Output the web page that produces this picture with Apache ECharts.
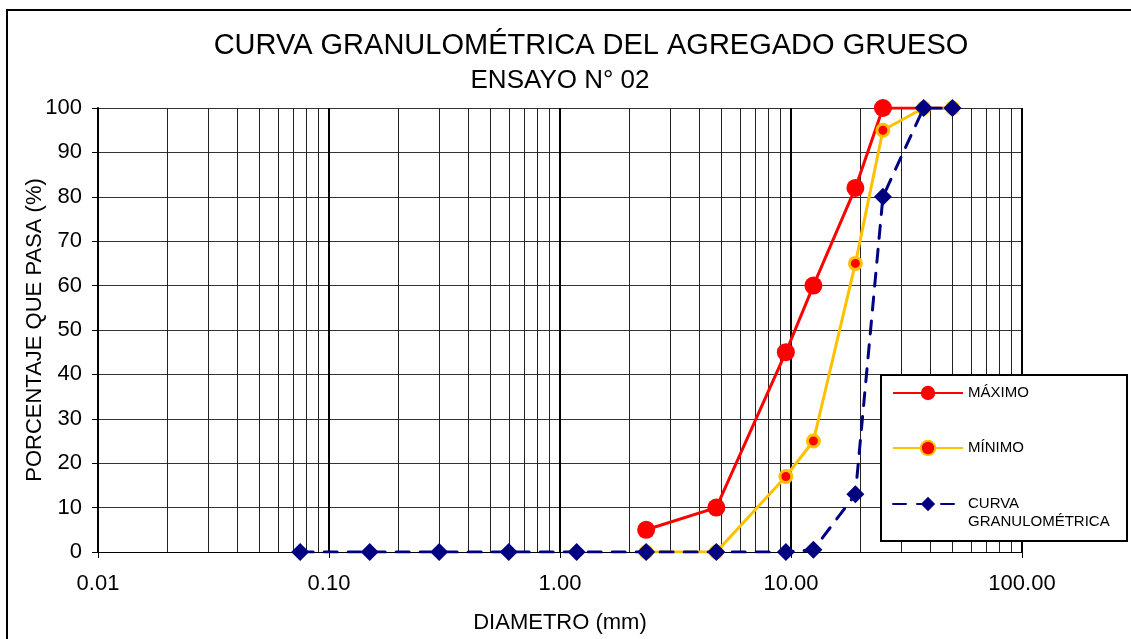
<!DOCTYPE html>
<html>
<head>
<meta charset="utf-8">
<script src="https://cdn.jsdelivr.net/npm/echarts@6/dist/echarts.min.js"></script>
<style>
  html, body { margin: 0; padding: 0; background: #fff; }
  #chart { width: 1131px; height: 639px; }
</style>
</head>
<body>
<div id="chart"></div>
<script>
// ---- data ----
const titleText = 'CURVA GRANULOMÉTRICA DEL AGREGADO GRUESO';
const subtitleText = 'ENSAYO N° 02';
const xAxisName = 'DIAMETRO (mm)';
const yAxisName = 'PORCENTAJE QUE PASA (%)';
const seriesNames = ['MÁXIMO', 'MÍNIMO', 'CURVA GRANULOMÉTRICA'];

const curveSieves = [0.075, 0.15, 0.3, 0.6, 1.18, 2.36, 4.75, 9.5, 12.5, 19, 25, 37.5, 50];
const curveValues = [0, 0, 0, 0, 0, 0, 0, 0, 0.5, 13, 80, 100, 100];

const limitSieves = [2.36, 4.75, 9.5, 12.5, 19, 25, 37.5, 50];
const maxValues = [5, 10, 45, 60, 82, 100, 100, 100];
const minValues = [0, 0, 17, 25, 65, 95, 100, 100];
const maxMarkerShown = [true, true, true, true, true, true, false, false];

const decades = [0.01, 0.1, 1, 10];
const minorMultipliers = [2, 3, 4, 5, 6, 7, 8, 9];

// ---- build ----
const FONT = 'Liberation Sans, Arial, sans-serif';
const minorLines = [];
decades.forEach(d => minorMultipliers.forEach(m => minorLines.push({ xAxis: +(d * m).toPrecision(3) })));

const maxData = limitSieves.map((s, i) => maxMarkerShown[i] ? [s, maxValues[i]] : { value: [s, maxValues[i]], symbolSize: 0 });
const minData = limitSieves.map((s, i) => [s, minValues[i]]);
const curveData = curveSieves.map((s, i) => [s, curveValues[i]]);

const chart = echarts.init(document.getElementById('chart'), null, { renderer: 'canvas' });

const legendBase = {
  orient: 'vertical',
  left: 892,
  itemWidth: 70,
  itemHeight: 18,
  itemGap: 0,
  padding: 0,
  selectedMode: false,
  textStyle: { fontFamily: FONT, fontSize: 15, color: '#000', lineHeight: 18 }
};

const option = {
  animation: false,
  backgroundColor: '#fff',
  title: [
    { text: titleText, left: 591, textAlign: 'center', top: 31, padding: 0,
      textStyle: { fontFamily: FONT, fontSize: 29, fontWeight: 'normal', color: '#000', lineHeight: 30 } },
    { text: subtitleText, left: 560, textAlign: 'center', top: 68, padding: 0,
      textStyle: { fontFamily: FONT, fontSize: 26, fontWeight: 'normal', color: '#000', lineHeight: 26 } }
  ],
  legend: [
    Object.assign({}, legendBase, { data: [seriesNames[0]], top: 384 }),
    Object.assign({}, legendBase, { data: [seriesNames[1]], top: 439 }),
    Object.assign({}, legendBase, { data: [seriesNames[2]], top: 477,
      formatter: () => '\nCURVA\nGRANULOMÉTRICA' })
  ],
  graphic: [
    { type: 'rect', z: -10, shape: { x: 7, y: 10, width: 1140, height: 650 },
      style: { fill: 'none', stroke: '#000', lineWidth: 2 } },
    { type: 'rect', z: 3, shape: { x: 881, y: 375, width: 246, height: 166 },
      style: { fill: '#fff', stroke: '#000', lineWidth: 2 } }
  ],
  grid: { left: 98, right: 109, top: 108, bottom: 87, containLabel: false },
  xAxis: {
    type: 'log',
    logBase: 10,
    min: 0.01,
    max: 100,
    name: xAxisName,
    nameLocation: 'middle',
    nameGap: 60,
    nameMoveOverlap: false,
    nameTextStyle: { fontFamily: FONT, fontSize: 22, color: '#000' },
    axisLine: { show: true, lineStyle: { color: '#000', width: 1 } },
    axisTick: { show: true, length: 6, lineStyle: { color: '#000', width: 1 } },
    axisLabel: { fontFamily: FONT, fontSize: 22, color: '#000', margin: 21,
      formatter: v => Number(v).toFixed(2) },
    splitLine: { show: true, lineStyle: { color: '#000', width: 2 } },
    minorTick: { show: false },
    minorSplitLine: { show: false }
  },
  yAxis: {
    type: 'value',
    min: 0,
    max: 100,
    interval: 10,
    name: yAxisName,
    nameLocation: 'middle',
    nameRotate: 90,
    nameGap: 52,
    nameMoveOverlap: false,
    nameTextStyle: { fontFamily: FONT, fontSize: 22, color: '#000' },
    axisLine: { show: true, lineStyle: { color: '#000', width: 2 } },
    axisTick: { show: true, length: 6, lineStyle: { color: '#000', width: 1 } },
    axisLabel: { fontFamily: FONT, fontSize: 22, color: '#000', margin: 16 },
    splitLine: { show: true, lineStyle: { color: '#333', width: 1 } }
  },
  series: [
    {
      name: seriesNames[0],
      type: 'line',
      z: 2,
      data: maxData,
      symbol: 'circle',
      symbolSize: 18,
      itemStyle: { color: '#FF0000' },
      lineStyle: { color: '#FF0000', width: 3 },
      markLine: {
        silent: true,
        z: 1,
        symbol: 'none',
        label: { show: false },
        emphasis: { disabled: true },
        lineStyle: { color: '#222', width: 1, type: 'solid' },
        data: minorLines
      }
    },
    {
      name: seriesNames[1],
      type: 'line',
      z: 3,
      data: minData,
      symbol: 'circle',
      symbolSize: 12,
      itemStyle: { color: '#FF0000', borderColor: '#FFC000', borderWidth: 3 },
      lineStyle: { color: '#FFC000', width: 3 }
    },
    {
      name: seriesNames[2],
      type: 'line',
      z: 4,
      data: curveData,
      symbol: 'diamond',
      symbolSize: 18,
      itemStyle: { color: '#000080' },
      lineStyle: { color: '#000080', width: 3, type: [13, 11], cap: 'round' }
    }
  ]
};

chart.setOption(option);
</script>
</body>
</html>
